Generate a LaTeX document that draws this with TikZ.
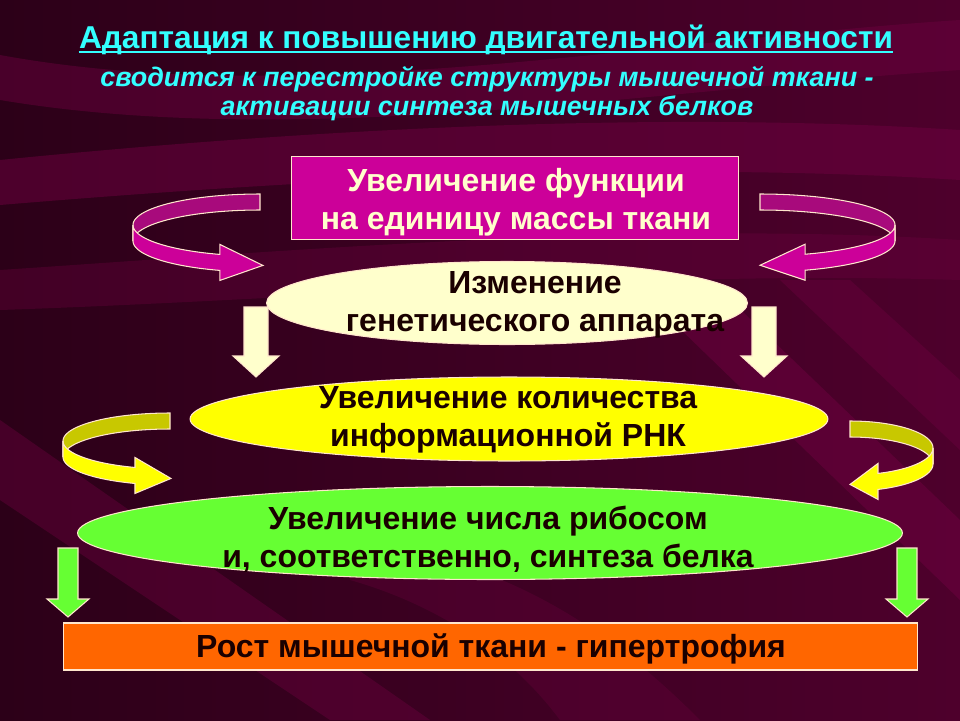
\documentclass[tikz,border=0pt]{standalone}
\usepackage{fontspec}
\setmainfont{Liberation Sans}
\usetikzlibrary{shapes.geometric}

\definecolor{bgdark}{HTML}{2C0018}
\definecolor{bgmid}{HTML}{4E002C}
\definecolor{bgband}{HTML}{6E0040}
\definecolor{rimcol}{HTML}{FFE6CC}
\definecolor{titlecol}{HTML}{33FFFF}
\definecolor{magcol}{HTML}{CC0099}
\definecolor{magback}{HTML}{A80A7C}
\definecolor{creamcol}{HTML}{FFFFCC}
\definecolor{yelcol}{HTML}{FFFF00}
\definecolor{yelback}{HTML}{C8C800}
\definecolor{greencol}{HTML}{66FF33}
\definecolor{orangecol}{HTML}{FF6600}
\definecolor{inkcol}{HTML}{1A0000}

% curled ribbon arrow: cx, cy, rx, ry, side, end angle, back colour, front colour, head length
\newcommand{\curlarrow}[9]{%
  \filldraw[rim, fill=#7] plot[domain=270:180, samples=30] ({#1+(#5)*#3*cos(\x)}, {#2+#4*sin(\x)})
    -- plot[domain=180:270, samples=30] ({#1+(#5)*#3*cos(\x)}, {#2+#4*sin(\x)+16}) -- cycle;
  \filldraw[rim, fill=#8] plot[domain=180:#6, samples=30] ({#1+(#5)*#3*cos(\x)}, {#2+#4*sin(\x)})
    -- ({#1+(#5)*#3*cos(#6)}, {#2+#4*sin(#6)-10})
    -- ({#1+(#5)*#3*cos(#6)+(#5)*#9}, {#2+#4*sin(#6)+11})
    -- ({#1+(#5)*#3*cos(#6)}, {#2+#4*sin(#6)+26})
    -- plot[domain=#6:180, samples=30] ({#1+(#5)*#3*cos(\x)}, {#2+#4*sin(\x)+16}) -- cycle;
}

\begin{document}
\begin{tikzpicture}[x=0.02cm, y=-0.02cm,
    rim/.style={draw=rimcol, line width=0.6pt},
    boxtxt/.style={font=\fontsize{18.2}{21.5}\selectfont\bfseries, align=center, inner sep=0pt, text=inkcol},
    downarrow/.style={rim, line join=miter}]
    \useasboundingbox (0,0) rectangle (960,720);

    % Sfondo
    \fill[left color=bgdark, right color=bgmid] (0,0) rectangle (960,720);
    \fill[bgband, opacity=.45] (0,55) .. controls (300,110) and (650,40) .. (960,20) -- (960,70) .. controls (650,90) and (300,150) .. (0,100) -- cycle;
    \fill[bgband, opacity=.5] (0,160) .. controls (300,130) and (650,110) .. (960,130) -- (960,180) .. controls (650,160) and (300,180) .. (0,205) -- cycle;
    \fill[bgband, opacity=.35] (0,270) .. controls (300,250) and (650,220) .. (960,240) -- (960,280) .. controls (650,270) and (300,300) .. (0,310) -- cycle;
    \fill[bgband, opacity=.5] (640,290) -- (720,290) -- (960,520) -- (960,600) -- cycle;
    \fill[bgband, opacity=.4] (780,280) -- (850,280) -- (960,380) -- (960,450) -- cycle;
    \fill[bgband, opacity=.4] (0,420) -- (0,500) -- (330,720) -- (430,720) -- cycle;
    \fill[bgband, opacity=.3] (350,540) .. controls (500,560) and (600,620) .. (700,720) -- (560,720) .. controls (500,640) and (420,600) .. (350,580) -- cycle;

    % Titolo
    \node[font=\fontsize{18}{21}\selectfont\bfseries, text=titlecol, inner sep=0pt] (title) at (486,40) {Адаптация к повышению двигательной активности};
    \draw[titlecol, line width=1.1pt] ([yshift=-2pt]title.base west) -- ([yshift=-2pt]title.base east);
    \node[font=\fontsize{15.3}{16.5}\selectfont\bfseries\itshape, text=titlecol, align=center, inner sep=0pt] (sub) at (487,94) {сводится к перестройке структуры мышечной ткани -\\активации синтеза мышечных белков};

    % Blocchi
    \node[rim, fill=magcol, minimum width=8.96cm, minimum height=1.66cm, boxtxt, text=creamcol] (funcbox) at (515,198) {};
    \node[boxtxt, text=creamcol] (functxt) at (516,202) {Увеличение функции\\ на единицу массы ткани};
    \node[ellipse, rim, fill=creamcol, minimum width=9.62cm, minimum height=1.66cm, inner sep=0pt] (geneell) at (507,303) {};
    \node[boxtxt] (genetxt) at (535,305) {Изменение\\генетического аппарата};
    \node[ellipse, rim, fill=yelcol, minimum width=12.76cm, minimum height=1.68cm, inner sep=0pt] (rnaell) at (509,419) {};
    \node[boxtxt] (rnatxt) at (508,420) {Увеличение количества\\информационной РНК};
    \node[ellipse, rim, fill=greencol, minimum width=16.5cm, minimum height=1.86cm, inner sep=0pt] (ribell) at (490,533) {};
    \node[boxtxt] (ribtxt) at (488,539) {Увеличение числа рибосом\\и, соответственно, синтеза белка};
    \node[rim, fill=orangecol, minimum width=17.1cm, minimum height=0.94cm] (growbox) at (490.5,646.5) {};
    \node[boxtxt] (growtxt) at (491,649) {Рост мышечной ткани - гипертрофия};

    % Frecce curve
    \curlarrow{260}{225}{127}{31}{1}{108.4}{magback}{magcol}{43}
    \curlarrow{760}{225}{135}{31}{-1}{109.5}{magback}{magcol}{45}
    \curlarrow{170}{441}{107}{28}{1}{109.1}{yelback}{yelcol}{36}
    \curlarrow{850}{448}{83}{27}{-1}{109.7}{yelback}{yelcol}{28}

    % Frecce verticali
    \filldraw[downarrow, fill=creamcol] (244,307) -- (268,307) -- (268,356) -- (279,356) -- (256,377) -- (233,356) -- (244,356) -- cycle;
    \filldraw[downarrow, fill=creamcol] (752,307) -- (776,307) -- (776,356) -- (787,356) -- (764,377) -- (741,356) -- (752,356) -- cycle;
    \filldraw[downarrow, fill=greencol] (58,548) -- (78,548) -- (78,599) -- (89,599) -- (68,617) -- (47,599) -- (58,599) -- cycle;
    \filldraw[downarrow, fill=greencol] (897,548) -- (917,548) -- (917,599) -- (928,599) -- (907,617) -- (886,599) -- (897,599) -- cycle;
\end{tikzpicture}
\end{document}
